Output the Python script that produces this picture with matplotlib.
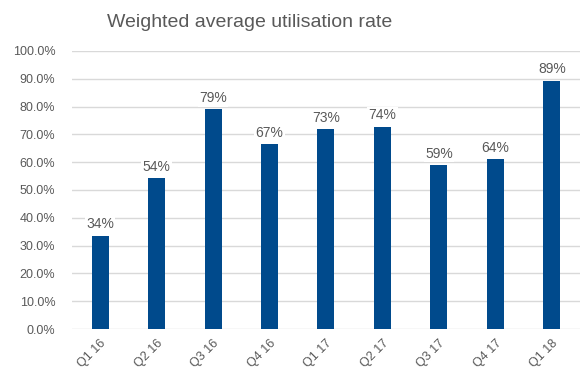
import matplotlib.pyplot as plt
from matplotlib.ticker import FuncFormatter

plt.rcParams['font.family'] = ['Liberation Sans', 'DejaVu Sans']

# data
quarters = ['Q1 16', 'Q2 16', 'Q3 16', 'Q4 16', 'Q1 17', 'Q2 17', 'Q3 17', 'Q4 17', 'Q1 18']
bar_values = [33.6, 54.3, 79.0, 66.5, 71.9, 72.8, 59.0, 61.2, 89.3]
label_text = ['34%', '54%', '79%', '67%', '73%', '74%', '59%', '64%', '89%']

text_col = '#595959'
bar_col = '#004a8c'

fig = plt.figure(figsize=(5.8, 3.74), dpi=100)
ax = fig.add_axes([0.124, 0.120, 0.876, 0.744])

x = range(len(quarters))
bars = ax.bar(x, bar_values, width=0.3, color=bar_col, zorder=3)
for b, txt in zip(bars, label_text):
    ax.text(b.get_x() + b.get_width() / 2, b.get_height() + 1.5, txt,
            ha='center', va='bottom', fontsize=10, color=text_col, zorder=4,
            bbox=dict(facecolor='white', edgecolor='none', pad=1))

ax.set_ylim(0, 100)
ax.set_xlim(-0.5, len(quarters) - 0.5)
ax.set_yticks(range(0, 101, 10))
ax.yaxis.set_major_formatter(FuncFormatter(lambda v, p: f'{v:.1f}%'))
ax.set_xticks(list(x))
ax.set_xticklabels(quarters, rotation=45, ha='right', rotation_mode='anchor')
ax.tick_params(axis='both', length=0, labelsize=9, colors=text_col)
ax.tick_params(axis='y', pad=12)
ax.tick_params(axis='x', pad=6)
ax.grid(axis='y', color='#d9d9d9', linewidth=1, zorder=0)
for s in ax.spines.values():
    s.set_visible(False)

fig.text(0.43, 0.94, 'Weighted average utilisation rate', ha='center', va='center',
         fontsize=14, color=text_col)

fig.savefig('out.png', dpi=100)
